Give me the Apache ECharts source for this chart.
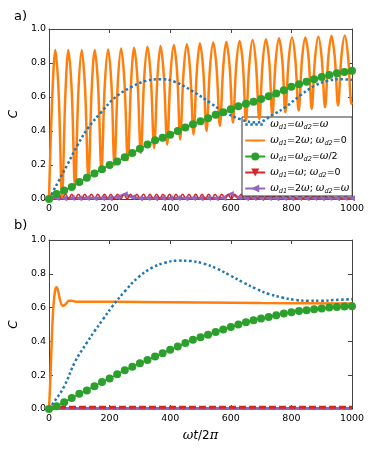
<!DOCTYPE html>
<html><head><meta charset="utf-8">
<script src="https://cdn.jsdelivr.net/npm/echarts@6/dist/echarts.min.js"></script>
<style>html,body{margin:0;padding:0;background:#fff}#c{width:374px;height:449px}</style>
</head><body><div id="c"></div>
<script>
// ---------- DATA ----------
const xTicks = [0, 200, 400, 600, 800, 1000];
const yTicks = [0.0, 0.2, 0.4, 0.6, 0.8, 1.0];

// panel a)
const blueTopT = [0, 15, 30, 60, 95, 130, 172, 220, 268, 320, 370, 414, 478, 533, 575, 630, 685, 743, 780, 830, 875, 920, 960, 1000];
const blueTopC = [0, 0.05, 0.1, 0.2, 0.32, 0.42, 0.51, 0.6, 0.655, 0.695, 0.705, 0.69, 0.63, 0.565, 0.515, 0.47, 0.45, 0.5, 0.54, 0.61, 0.665, 0.695, 0.705, 0.7];

const orangeTopT = [0, 11, 21, 32, 43, 54, 64, 75, 86, 97, 108, 119, 130, 141, 151, 162, 173, 184, 195, 206, 216, 227, 238, 249, 260, 271, 281, 292, 303, 314, 325, 336, 347, 358, 368, 379, 390, 401, 412, 423, 433, 444, 455, 466, 477, 488, 498, 509, 520, 531, 542, 553, 564, 575, 585, 596, 607, 618, 629, 640, 650, 661, 672, 683, 694, 705, 716, 727, 737, 748, 759, 770, 780, 791, 802, 813, 824, 835, 846, 857, 867, 878, 889, 900, 911, 922, 932, 943, 954, 965, 976, 987, 998, 1000];
const orangeTopC = [0, 0.613, 0.876, 0.616, 0.01, 0.616, 0.876, 0.634, 0.07, 0.634, 0.876, 0.649, 0.12, 0.65, 0.877, 0.665, 0.17, 0.667, 0.88, 0.676, 0.2, 0.68, 0.885, 0.689, 0.23, 0.692, 0.89, 0.704, 0.27, 0.707, 0.895, 0.716, 0.3, 0.72, 0.9, 0.726, 0.32, 0.73, 0.906, 0.739, 0.35, 0.742, 0.91, 0.751, 0.38, 0.755, 0.916, 0.761, 0.4, 0.764, 0.92, 0.773, 0.43, 0.776, 0.925, 0.782, 0.45, 0.786, 0.93, 0.789, 0.46, 0.792, 0.935, 0.795, 0.47, 0.799, 0.94, 0.805, 0.49, 0.808, 0.945, 0.814, 0.51, 0.818, 0.95, 0.821, 0.52, 0.821, 0.95, 0.824, 0.53, 0.827, 0.955, 0.83, 0.54, 0.834, 0.96, 0.837, 0.55, 0.837, 0.96, 0.84, 0.56, 0.57];

const markT = [0, 25, 50, 75, 100, 125, 150, 175, 200, 225, 250, 275, 300, 325, 350, 375, 400, 425, 450, 475, 500, 525, 550, 575, 600, 625, 650, 675, 700, 725, 750, 775, 800, 825, 850, 875, 900, 925, 950, 975, 1000];
const greenTopC = [0, 0.03, 0.05, 0.07, 0.1, 0.125, 0.15, 0.175, 0.2, 0.22, 0.245, 0.27, 0.295, 0.32, 0.345, 0.36, 0.378, 0.4, 0.42, 0.44, 0.458, 0.475, 0.495, 0.51, 0.528, 0.545, 0.56, 0.572, 0.588, 0.604, 0.62, 0.64, 0.66, 0.675, 0.69, 0.705, 0.717, 0.73, 0.74, 0.747, 0.755];

const redTopT = [0, 11, 22, 32, 43, 54, 65, 75, 86, 97, 108, 118, 129, 140, 151, 161, 172, 183, 194, 204, 215, 226, 237, 247, 258, 269, 280, 290, 301, 312, 323, 333, 344, 355, 366, 376, 387, 398, 409, 419, 430, 441, 452, 462, 473, 484, 495, 505, 516, 527, 538, 548, 559, 570, 581, 591, 602, 613, 624, 634, 645, 656, 667, 677, 688, 699, 710, 720, 731, 742, 753, 763, 774, 785, 796, 806, 817, 828, 839, 849, 860, 871, 882, 892, 903, 914, 925, 935, 946, 957, 968, 978, 989, 1000];
const redTopC = [0.002, 0.028, 0.002, 0.028, 0.002, 0.028, 0.002, 0.028, 0.002, 0.028, 0.002, 0.028, 0.002, 0.028, 0.002, 0.028, 0.002, 0.028, 0.002, 0.028, 0.002, 0.028, 0.002, 0.028, 0.002, 0.028, 0.002, 0.028, 0.002, 0.028, 0.002, 0.028, 0.002, 0.028, 0.002, 0.028, 0.002, 0.028, 0.002, 0.028, 0.002, 0.028, 0.002, 0.028, 0.002, 0.028, 0.002, 0.028, 0.002, 0.028, 0.002, 0.028, 0.002, 0.028, 0.002, 0.028, 0.002, 0.028, 0.002, 0.028, 0.002, 0.025, 0.002, 0.022, 0.002, 0.02, 0.002, 0.018, 0.002, 0.017, 0.002, 0.016, 0.002, 0.015, 0.002, 0.015, 0.002, 0.014, 0.002, 0.014, 0.002, 0.013, 0.002, 0.013, 0.002, 0.013, 0.002, 0.012, 0.002, 0.012, 0.002, 0.012, 0.002, 0.012];

const purpleTopC = [0.005, 0.006, 0.005, 0.006, 0.005, 0.006, 0.005, 0.006, 0.005, 0.01, 0.028, 0.01, 0.005, 0.006, 0.005, 0.006, 0.005, 0.006, 0.005, 0.006, 0.005, 0.006, 0.005, 0.006, 0.03, 0.01, 0.005, 0.006, 0.005, 0.006, 0.005, 0.006, 0.005, 0.006, 0.005, 0.006, 0.005, 0.006, 0.005, 0.006, 0.005];

// panel b)
const blueBotT = [0, 10, 49, 86, 124, 150, 178, 210, 252, 295, 339, 382, 425, 465, 511, 555, 598, 640, 685, 727, 769, 814, 856, 899, 943, 1000];
const blueBotC = [0, 0.024, 0.13, 0.28, 0.39, 0.46, 0.53, 0.61, 0.7, 0.78, 0.835, 0.865, 0.878, 0.876, 0.86, 0.83, 0.79, 0.75, 0.71, 0.68, 0.66, 0.645, 0.64, 0.64, 0.645, 0.65];

const orangeBotT = [0, 5, 10, 15, 20, 25, 30, 37, 45, 55, 65, 75, 90, 150, 300, 500, 700, 1000];
const orangeBotC = [0, 0.2, 0.45, 0.62, 0.7, 0.72, 0.7, 0.64, 0.61, 0.62, 0.64, 0.64, 0.635, 0.635, 0.633, 0.63, 0.627, 0.625];

const greenBotC = [0, 0.017, 0.04, 0.065, 0.09, 0.11, 0.135, 0.16, 0.18, 0.205, 0.23, 0.25, 0.27, 0.29, 0.31, 0.33, 0.35, 0.37, 0.39, 0.41, 0.425, 0.44, 0.455, 0.47, 0.485, 0.5, 0.513, 0.525, 0.536, 0.545, 0.555, 0.565, 0.573, 0.58, 0.585, 0.59, 0.595, 0.6, 0.603, 0.606, 0.608];

const redBotT = [0, 1000];
const redBotC = [0.01, 0.01];
const purpleBotT = [0, 1000];
const purpleBotC = [0.003, 0.003];

// ---------- CHART ----------
const zip = (a, b) => a.map((v, i) => [v, b[i]]);
const COL = {blue:'#1f77b4', orange:'#ff7f0e', green:'#2ca02c', red:'#d62728', purple:'#9467bd'};
const FONT = 'DejaVu Sans';
const AX = '#444';

function xAx(grid, labels){
  return {type:'value', gridIndex:grid, min:0, max:1000, interval:200, position: labels?'bottom':'top',
    axisLine:{show:true, onZero:false, lineStyle:{color:AX, width:1}},
    axisTick:{show:true, inside:true, length:4, lineStyle:{color:AX}},
    axisLabel:{show:labels, color:'#000', fontFamily:FONT, fontSize:9.5, margin:5, formatter:v=>String(v)},
    splitLine:{show:false}};
}
function yAx(grid, labels){
  return {type:'value', gridIndex:grid, min:0, max:1, interval:0.2, position: labels?'left':'right',
    axisLine:{show:true, onZero:false, lineStyle:{color:AX, width:1}},
    axisTick:{show:true, inside:true, length:4, lineStyle:{color:AX}},
    axisLabel:{show:labels, color:'#000', fontFamily:FONT, fontSize:9.5, margin:3, formatter:v=>v.toFixed(1)},
    splitLine:{show:false},
    name: labels ? 'C' : '', nameLocation:'middle', nameGap:22, nameRotate:90,
    nameTextStyle:{fontFamily:FONT, fontStyle:'italic', fontSize:12, color:'#000'}};
}

const legendText = {
  s1: '{w|ω}{s|d1}{n|=}{w|ω}{s|d2}{n|=}{w|ω}',
  s2: '{w|ω}{s|d1}{n|=2}{w|ω}{n|; }{w|ω}{s|d2}{n|=0}',
  s3: '{w|ω}{s|d1}{n|=}{w|ω}{s|d2}{n|=}{w|ω}{n|/2}',
  s4: '{w|ω}{s|d1}{n|=}{w|ω}{n|; }{w|ω}{s|d2}{n|=0}',
  s5: '{w|ω}{s|d1}{n|=2}{w|ω}{n|; }{w|ω}{s|d2}{n|=}{w|ω}'
};

const option = {
  animation:false,
  backgroundColor:'#fff',
  grid:[{left:42, top:29, width:310, height:170}, {left:42, top:240, width:310, height:169}],
  xAxis:[xAx(0,true), xAx(0,false), Object.assign(xAx(1,true), {name:'{w|ω}{i|t}{n|/2}{w|π}', nameLocation:'middle', nameGap:20,
    nameTextStyle:{color:'#000', fontSize:12, rich:{w:{fontFamily:'DejaVu Serif', fontStyle:'italic', fontSize:13}, i:{fontFamily:FONT, fontStyle:'italic', fontSize:12}, n:{fontFamily:FONT, fontSize:12}}}}), xAx(1,false)],
  yAxis:[yAx(0,true), yAx(0,false), yAx(1,true), yAx(1,false)],
  legend:{
    data:[
      {name:'s1', itemStyle:{opacity:0}, lineStyle:{color:COL.blue, width:2.5, type:'dotted', opacity:1}},
      {name:'s2', itemStyle:{opacity:0}},
      's3', 's4', 's5'],
    orient:'vertical', left:242, top:117,
    backgroundColor:'#fff', borderColor:'#333', borderWidth:1, borderRadius:0,
    padding:[2,3,1,2], itemGap:4, itemWidth:20, itemHeight:10,
    formatter: n => legendText[n],
    textStyle:{color:'#000', fontFamily:FONT, fontSize:9.5,
      rich:{w:{fontFamily:'DejaVu Serif', fontStyle:'italic', fontSize:10.5, color:'#000'},
            s:{fontFamily:FONT, fontStyle:'italic', fontSize:6.5, padding:[6,0,0,0], color:'#000'},
            n:{fontFamily:FONT, fontSize:9.5, color:'#000'}}}
  },
  graphic:[
    {type:'text', left:14, top:10, style:{text:'a)', font:'13px DejaVu Sans', fill:'#000'}},
    {type:'text', left:14, top:219, style:{text:'b)', font:'13px DejaVu Sans', fill:'#000'}}
  ],
  series:[
    // panel a
    {name:'s5', type:'line', xAxisIndex:0, yAxisIndex:0, data:zip(markT, purpleTopC),
      symbol:'triangle', symbolRotate:90, symbolSize:6, showSymbol:true,
      lineStyle:{color:COL.purple, width:2.5}, itemStyle:{color:COL.purple}, z:3},
    {name:'s4', type:'line', xAxisIndex:0, yAxisIndex:0, data:zip(redTopT, redTopC), smooth:0.5,
      symbol:'triangle', symbolRotate:180, showSymbol:false, symbolSize:7,
      lineStyle:{color:COL.red, width:1.6}, itemStyle:{color:COL.red}, z:3},
    {name:'s2', type:'line', xAxisIndex:0, yAxisIndex:0, data:zip(orangeTopT, orangeTopC), smooth:0.35,
      symbol:'none', lineStyle:{color:COL.orange, width:2.5}, itemStyle:{color:COL.orange}, z:4},
    {name:'s1', type:'line', xAxisIndex:0, yAxisIndex:0, data:zip(blueTopT, blueTopC), smooth:0.4,
      symbol:'none', lineStyle:{color:COL.blue, width:2.5, type:'dotted'}, itemStyle:{color:COL.blue}, z:5},
    {name:'s3', type:'line', xAxisIndex:0, yAxisIndex:0, data:zip(markT, greenTopC),
      symbol:'circle', symbolSize:8, showSymbol:true,
      lineStyle:{color:COL.green, width:1.5}, itemStyle:{color:COL.green}, z:6},
    // panel b
    {name:'b5', type:'line', xAxisIndex:2, yAxisIndex:2, data:zip(purpleBotT, purpleBotC),
      symbol:'none', lineStyle:{color:COL.purple, width:3}, z:3},
    {name:'b4', type:'line', xAxisIndex:2, yAxisIndex:2, data:zip(redBotT, redBotC),
      symbol:'none', lineStyle:{color:COL.red, width:3, type:[7,3]}, z:3},
    {name:'b2', type:'line', xAxisIndex:2, yAxisIndex:2, data:zip(orangeBotT, orangeBotC), smooth:0.3,
      symbol:'none', lineStyle:{color:COL.orange, width:2.5}, z:4},
    {name:'b1', type:'line', xAxisIndex:2, yAxisIndex:2, data:zip(blueBotT, blueBotC), smooth:0.4,
      symbol:'none', lineStyle:{color:COL.blue, width:2.5, type:'dotted'}, z:5},
    {name:'b3', type:'line', xAxisIndex:2, yAxisIndex:2, data:zip(markT, greenBotC),
      symbol:'circle', symbolSize:8, showSymbol:true,
      lineStyle:{color:COL.green, width:1.5}, itemStyle:{color:COL.green}, z:6}
  ]
};
const chart = echarts.init(document.getElementById('c'), null, {renderer:'canvas'});
chart.setOption(option);
</script>
</body></html>
